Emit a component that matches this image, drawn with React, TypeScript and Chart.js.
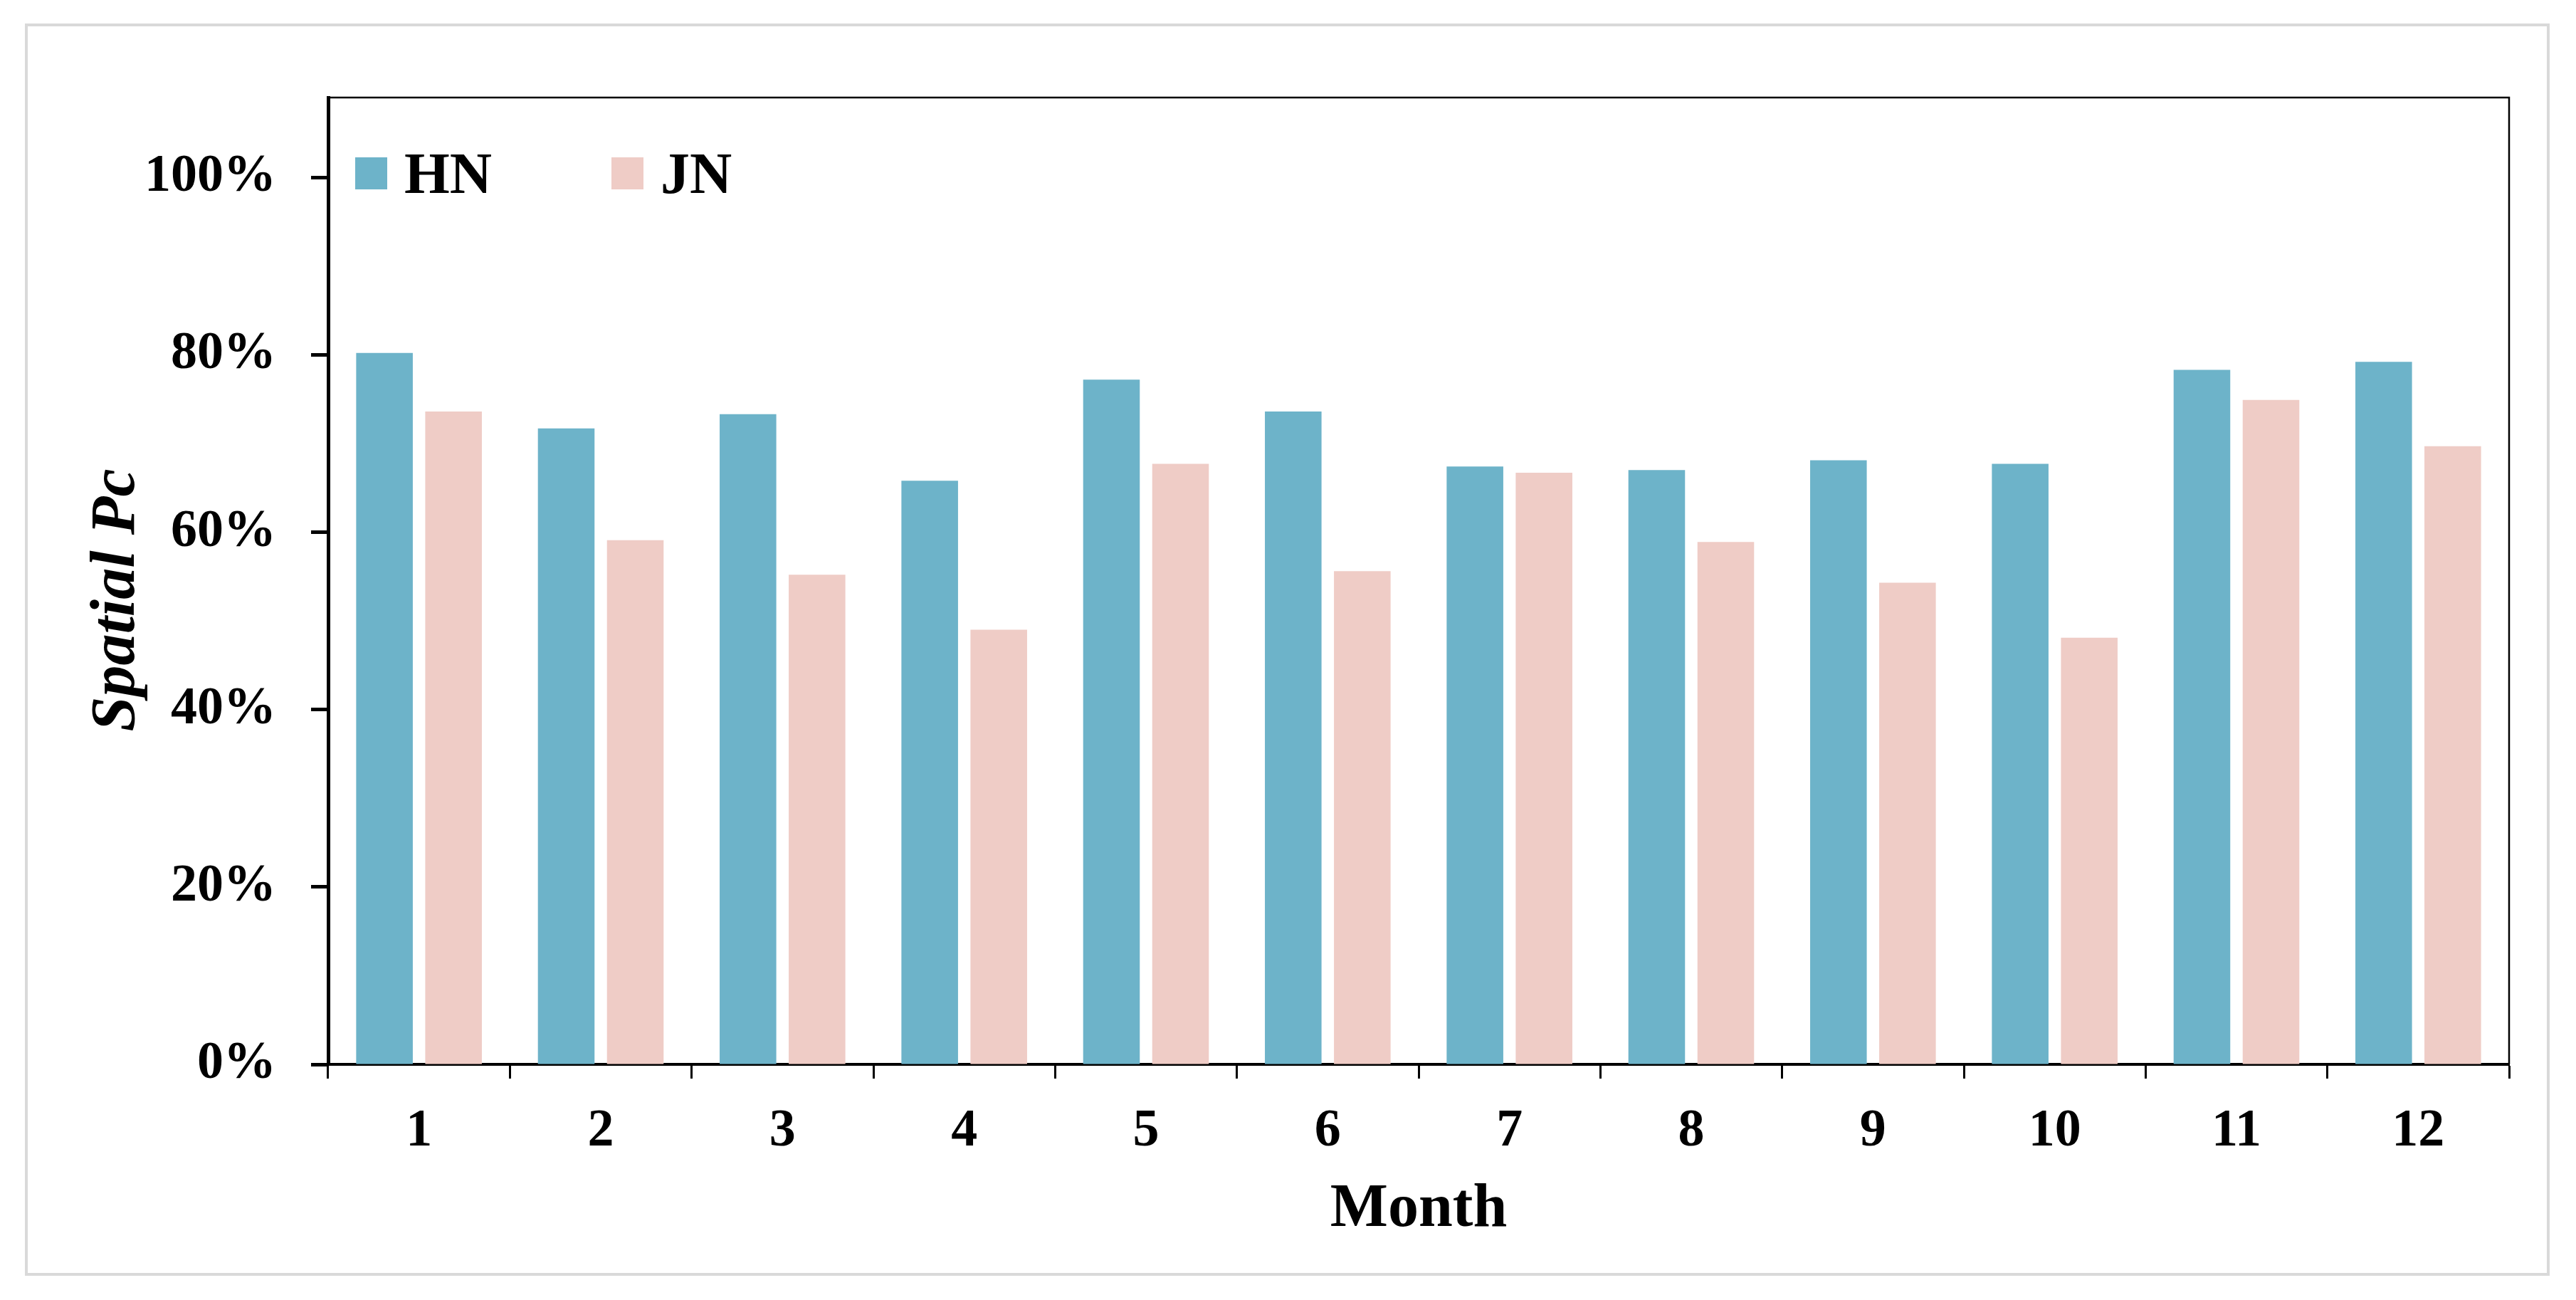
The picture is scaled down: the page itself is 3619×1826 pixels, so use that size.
import React, { useEffect, useRef } from 'react';
import { Chart, registerables } from 'chart.js';

Chart.register(...registerables);

const months = ['1', '2', '3', '4', '5', '6', '7', '8', '9', '10', '11', '12'];
const hnValues = [0.802, 0.717, 0.733, 0.658, 0.772, 0.736, 0.674, 0.670, 0.681, 0.677, 0.783, 0.792];
const jnValues = [0.736, 0.591, 0.552, 0.490, 0.677, 0.556, 0.667, 0.589, 0.543, 0.481, 0.749, 0.697];
const yTickValues = [0, 0.2, 0.4, 0.6, 0.8, 1.0];
const seriesLabels = ['HN', 'JN'];
const seriesColors = ['#6db3c9', '#efccc6'];
const xTitle = 'Month';
const yTitle = 'Spatial Pc';

const W = 3619;
const H = 1826;
const FONT = "'Liberation Serif', 'Times New Roman', serif";

const framePlugin = {
  id: 'frameAndLegend',
  beforeDraw(chart: any) {
    const ctx = chart.ctx;
    ctx.save();
    ctx.fillStyle = '#ffffff';
    ctx.fillRect(0, 0, chart.width, chart.height);
    ctx.strokeStyle = '#d9d9d9';
    ctx.lineWidth = 4;
    ctx.strokeRect(37, 35, 3543, 1755);
    ctx.restore();
  },
  afterDraw(chart: any) {
    const ctx = chart.ctx;
    const a = chart.chartArea;
    ctx.save();
    // top and right frame of plot area
    ctx.strokeStyle = '#000';
    ctx.lineWidth = 2.5;
    ctx.beginPath();
    ctx.moveTo(a.left, a.top);
    ctx.lineTo(a.right, a.top);
    ctx.lineTo(a.right, a.bottom);
    ctx.stroke();
    // legend inside the plot area
    ctx.font = `bold 82px ${FONT}`;
    ctx.textBaseline = 'alphabetic';
    ctx.textAlign = 'left';
    chart.data.datasets.forEach((ds: any, i: number) => {
      const bx = a.left + 38 + i * 360;
      const by = a.top + 84;
      ctx.fillStyle = ds.backgroundColor;
      ctx.fillRect(bx, by, 45, 45);
      ctx.fillStyle = '#000';
      ctx.fillText(ds.label, bx + 69, a.top + 134);
    });
    // y-axis title (rotated), centred slightly below plot middle as in the reference
    ctx.save();
    ctx.translate(188, (a.top + a.bottom) / 2 + 27);
    ctx.rotate(-Math.PI / 2);
    ctx.font = `italic bold 88px ${FONT}`;
    ctx.textAlign = 'center';
    ctx.textBaseline = 'alphabetic';
    ctx.fillStyle = '#000';
    ctx.fillText(yTitle, 0, 0);
    ctx.restore();
    ctx.restore();
  },
};

export default function App() {
  const canvasRef = useRef<HTMLCanvasElement | null>(null);

  useEffect(() => {
    document.body.style.margin = '0';
    const canvas = canvasRef.current;
    if (!canvas) return;
    const chart = new Chart(canvas, {
      type: 'bar',
      data: {
        labels: months,
        datasets: [
          {
            label: seriesLabels[0],
            data: hnValues,
            backgroundColor: seriesColors[0],
            borderWidth: 0,
            categoryPercentage: 0.76,
            barPercentage: 0.82,
          },
          {
            label: seriesLabels[1],
            data: jnValues,
            backgroundColor: seriesColors[1],
            borderWidth: 0,
            categoryPercentage: 0.76,
            barPercentage: 0.82,
          },
        ],
      },
      options: {
        responsive: false,
        animation: false,
        devicePixelRatio: 1,
        layout: { padding: { top: 137, right: 94, left: 0, bottom: 0 } },
        plugins: {
          legend: { display: false },
          tooltip: { enabled: false },
          title: { display: false },
        },
        scales: {
          x: {
            type: 'category',
            afterFit: (s: any) => {
              s.height = 331;
            },
            border: { display: true, color: '#000', width: 4 },
            grid: {
              display: true,
              offset: true,
              drawOnChartArea: false,
              drawTicks: true,
              tickLength: 20,
              tickWidth: 3,
              tickColor: '#000',
              color: '#000',
            },
            ticks: {
              color: '#000',
              font: { family: FONT, weight: 'bold', size: 74 },
              padding: 30,
              maxRotation: 0,
              autoSkip: false,
            },
            title: {
              display: true,
              text: xTitle,
              color: '#000',
              font: { family: FONT, weight: 'bold', size: 86 },
              padding: { top: 0, bottom: 75 },
            },
          },
          y: {
            type: 'linear',
            min: 0,
            max: 1.09,
            afterFit: (s: any) => {
              s.width = 461;
            },
            afterBuildTicks: (s: any) => {
              s.ticks = yTickValues.map((v) => ({ value: v }));
            },
            border: { display: true, color: '#000', width: 5 },
            grid: {
              display: true,
              drawOnChartArea: false,
              drawTicks: true,
              tickLength: 24,
              tickWidth: 5,
              tickColor: '#000',
              color: '#000',
            },
            ticks: {
              color: '#000',
              font: { family: FONT, weight: 'bold', size: 74 },
              padding: 49,
              callback: (v: any) => `${Math.round(Number(v) * 100)}%`,
            },
            title: { display: false },
          },
        },
      },
      plugins: [framePlugin],
    } as any);
    return () => chart.destroy();
  }, []);

  return (
    <div style={{ width: W, height: H, position: 'relative' }}>
      <canvas ref={canvasRef} width={W} height={H} style={{ display: 'block', width: W, height: H }} />
    </div>
  );
}
